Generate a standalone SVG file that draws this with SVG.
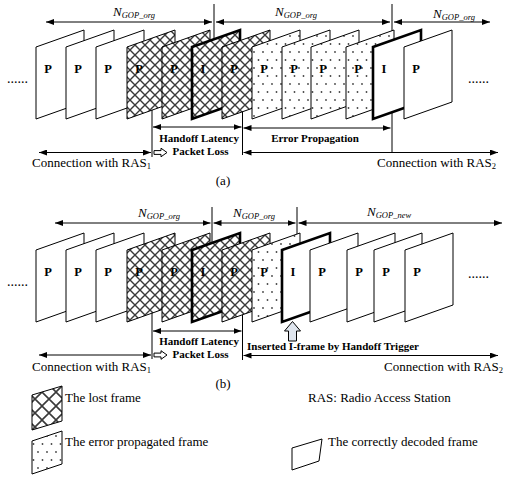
<svg xmlns="http://www.w3.org/2000/svg" width="507" height="477" viewBox="0 0 507 477">
<style>
.f{stroke:#000;stroke-width:1;stroke-linejoin:miter}
.w{fill:#fff}
.h{fill:url(#hatch)}
.d{fill:url(#dots)}
.b{stroke-width:2.6}
.ln{stroke:#000;stroke-width:1;fill:none}
.dim{marker-start:url(#ah);marker-end:url(#ah)}
.lbl{font-family:"Liberation Serif","Times New Roman",serif;font-weight:bold;font-size:12.5px;text-anchor:middle}
.t{font-family:"Liberation Serif","Times New Roman",serif;font-size:13px}
.bt{font-family:"Liberation Serif","Times New Roman",serif;font-size:11px;font-weight:bold}
.n{font-family:"Liberation Serif","Times New Roman",serif;font-size:13px;font-style:italic}
.sub{font-size:8.5px}
.ell{font-family:"Liberation Serif","Times New Roman",serif;font-size:14px}
</style>
<defs>
<pattern id="hatch" patternUnits="userSpaceOnUse" width="10" height="10">
<rect width="10" height="10" fill="#fff"/>
<path d="M0,0 L10,10 M10,0 L0,10" stroke="#3a3a3a" stroke-width="1.4"/>
</pattern>
<pattern id="hatchL" patternUnits="userSpaceOnUse" width="14" height="14">
<rect width="14" height="14" fill="#fff"/>
<path d="M0,0 L14,14 M14,0 L0,14" stroke="#3a3a3a" stroke-width="1.6"/>
</pattern>
<pattern id="dots" patternUnits="userSpaceOnUse" width="9" height="16">
<rect width="9" height="16" fill="#fff"/>
<circle cx="2" cy="4" r="0.9" fill="#444"/>
<circle cx="6.5" cy="12" r="0.9" fill="#444"/>
</pattern>
<marker id="ah" markerUnits="userSpaceOnUse" markerWidth="8" markerHeight="6" refX="8" refY="3" orient="auto-start-reverse">
<path d="M0,0 L8,3 L0,6 Z" fill="#000"/>
</marker>
</defs>

<g id="connectors">
<!-- (a) -->
<line class="ln" x1="214" y1="4" x2="214" y2="42"/>
<line class="ln" x1="392" y1="4" x2="392" y2="153"/>
<line class="ln dim" x1="46" y1="22" x2="212" y2="22"/>
<line class="ln dim" x1="216" y1="22" x2="390" y2="22"/>
<line class="ln dim" x1="394" y1="22" x2="490" y2="22"/>
<line class="ln" x1="152" y1="105" x2="152" y2="157"/>
<line class="ln" x1="242.5" y1="105" x2="242.5" y2="155"/>
<line class="ln dim" x1="153" y1="127" x2="241.5" y2="127"/>
<line class="ln dim" x1="243.5" y1="128" x2="390.5" y2="128"/>
<line class="ln dim" x1="39" y1="152.5" x2="151" y2="152.5"/>
<line class="ln dim" x1="243.5" y1="152.5" x2="498" y2="152.5"/>
<!-- (b) -->
<line class="ln" x1="212" y1="207" x2="212" y2="245"/>
<line class="ln" x1="297" y1="207" x2="297" y2="245"/>
<line class="ln dim" x1="55" y1="223" x2="210.5" y2="223"/>
<line class="ln dim" x1="213.5" y1="223" x2="295.5" y2="223"/>
<line class="ln dim" x1="298.5" y1="223" x2="502" y2="223"/>
<line class="ln" x1="152" y1="308" x2="152" y2="359"/>
<line class="ln" x1="242.5" y1="308" x2="242.5" y2="360"/>
<line class="ln dim" x1="153" y1="331" x2="241.5" y2="331"/>
<line class="ln dim" x1="39" y1="355" x2="151" y2="355"/>
<line class="ln dim" x1="243.5" y1="355.5" x2="498" y2="355.5"/>
<path class="f" fill="#fff" d="M154,150.6 H161 V148.2 L167,152.5 L161,156.8 V154.4 H154 Z"/>
<path class="f" fill="#fff" d="M154,353.1 H161 V350.7 L167,355 L161,359.3 V356.9 H154 Z"/>
<path class="f" fill="#dfe5ee" d="M292.5,321.5 L300.5,331 H296.5 V341 H288.5 V331 H284.5 Z"/>
</g>

<g id="a-frames">
<g id="a1"><path class="f w" d="M36,47 L84,30 L84,102 L36,119 Z"/><text class="lbl" x="48" y="72.5">P</text></g>
<g id="a2"><path class="f w" d="M66,47 L114,30 L114,102 L66,119 Z"/><text class="lbl" x="78" y="72.5">P</text></g>
<g id="a3"><path class="f w" d="M96,47 L144,30 L144,102 L96,119 Z"/><text class="lbl" x="108" y="72.5">P</text></g>
<g id="a4"><path class="f h" d="M127,47 L175,30 L175,102 L127,119 Z"/><text class="lbl" x="139" y="72.5">P</text></g>
<g id="a5"><path class="f h" d="M162,47 L210,30 L210,102 L162,119 Z"/><text class="lbl" x="174" y="72.5">P</text></g>
<g id="a6"><path class="f h b" d="M192,47 L240,30 L240,102 L192,119 Z"/><text class="lbl" x="203" y="72.5">I</text></g>
<g id="a7"><path class="f h" d="M222,47 L270,30 L270,102 L222,119 Z"/><text class="lbl" x="234" y="72.5">P</text></g>
<g id="a8"><path class="f d" d="M252,47 L300,30 L300,102 L252,119 Z"/><text class="lbl" x="264" y="72.5">P</text></g>
<g id="a9"><path class="f d" d="M282,47 L330,30 L330,102 L282,119 Z"/><text class="lbl" x="294" y="72.5">P</text></g>
<g id="a10"><path class="f d" d="M311,47 L359,30 L359,102 L311,119 Z"/><text class="lbl" x="323" y="72.5">P</text></g>
<g id="a11"><path class="f d" d="M346,47 L394,30 L394,102 L346,119 Z"/><text class="lbl" x="358" y="72.5">P</text></g>
<g id="a12"><path class="f w b" d="M373,47 L421,30 L421,102 L373,119 Z"/><text class="lbl" x="384" y="72.5">I</text></g>
<g id="a13"><path class="f w" d="M404,47 L452,30 L452,102 L404,119 Z"/><text class="lbl" x="416" y="72.5">P</text></g>
</g>

<g id="b-frames">
<g id="b1"><path class="f w" d="M36,250 L84,233 L84,305 L36,322 Z"/><text class="lbl" x="48" y="275.5">P</text></g>
<g id="b2"><path class="f w" d="M66,250 L114,233 L114,305 L66,322 Z"/><text class="lbl" x="78" y="275.5">P</text></g>
<g id="b3"><path class="f w" d="M96,250 L144,233 L144,305 L96,322 Z"/><text class="lbl" x="108" y="275.5">P</text></g>
<g id="b4"><path class="f h" d="M127,250 L175,233 L175,305 L127,322 Z"/><text class="lbl" x="139" y="275.5">P</text></g>
<g id="b5"><path class="f h" d="M162,250 L210,233 L210,305 L162,322 Z"/><text class="lbl" x="174" y="275.5">P</text></g>
<g id="b6"><path class="f h b" d="M192,250 L240,233 L240,305 L192,322 Z"/><text class="lbl" x="203" y="275.5">I</text></g>
<g id="b7"><path class="f h" d="M222,250 L270,233 L270,305 L222,322 Z"/><text class="lbl" x="234" y="275.5">P</text></g>
<g id="b8"><path class="f d" d="M252,250 L300,233 L300,305 L252,322 Z"/><text class="lbl" x="264" y="275.5">P</text></g>
<g id="b9"><path class="f w b" d="M282,250 L330,233 L330,305 L282,322 Z"/><text class="lbl" x="293" y="275.5">I</text></g>
<g id="b10"><path class="f w" d="M310,250 L358,233 L358,305 L310,322 Z"/><text class="lbl" x="322" y="275.5">P</text></g>
<g id="b11"><path class="f w" d="M347,250 L395,233 L395,305 L347,322 Z"/><text class="lbl" x="359" y="275.5">P</text></g>
<g id="b12"><path class="f w" d="M374,250 L422,233 L422,305 L374,322 Z"/><text class="lbl" x="386" y="275.5">P</text></g>
<g id="b13"><path class="f w" d="M405,250 L453,233 L453,305 L405,322 Z"/><text class="lbl" x="417" y="275.5">P</text></g>
</g>

<g id="labels">
<text class="ell" x="7" y="83">......</text>
<text class="ell" x="468" y="83">......</text>
<text class="ell" x="7" y="286">......</text>
<text class="ell" x="468" y="278">......</text>

<text class="n" x="113" y="16">N<tspan class="sub" dy="2">GOP_org</tspan></text>
<text class="n" x="275" y="16">N<tspan class="sub" dy="2">GOP_org</tspan></text>
<text class="n" x="433" y="18">N<tspan class="sub" dy="2">GOP_org</tspan></text>
<text class="n" x="138" y="217">N<tspan class="sub" dy="2">GOP_org</tspan></text>
<text class="n" x="233" y="217">N<tspan class="sub" dy="2">GOP_org</tspan></text>
<text class="n" x="367" y="216">N<tspan class="sub" dy="2">GOP_new</tspan></text>

<text class="bt" x="199" y="141.5" text-anchor="middle">Handoff Latency</text>
<text class="bt" x="200.5" y="154.5" text-anchor="middle">Packet Loss</text>
<text class="bt" x="315" y="142" text-anchor="middle">Error Propagation</text>
<text class="t" x="32" y="167">Connection with RAS<tspan font-size="8.5" dy="2">1</tspan></text>
<text class="t" x="377" y="167">Connection with RAS<tspan font-size="8.5" dy="2">2</tspan></text>
<text class="t" x="223" y="185" text-anchor="middle">(a)</text>

<text class="bt" x="199" y="345" text-anchor="middle">Handoff Latency</text>
<text class="bt" x="200.5" y="357.5" text-anchor="middle">Packet Loss</text>
<text class="bt" x="247" y="350">Inserted I-frame by Handoff Trigger</text>
<text class="t" x="32" y="371">Connection with RAS<tspan font-size="8.5" dy="2">1</tspan></text>
<text class="t" x="384" y="371">Connection with RAS<tspan font-size="8.5" dy="2">2</tspan></text>
<text class="t" x="223" y="388" text-anchor="middle">(b)</text>
</g>

<g id="legend">
<g id="leg-lost"><path class="f" fill="url(#hatchL)" d="M32,395 L62,386 L62,421 L32,430 Z"/><text class="t" x="65" y="402">The lost frame</text></g>
<g id="leg-err"><path class="f d" d="M32,441 L62,431 L62,464 L32,474 Z"/><text class="t" x="65" y="446">The error propagated frame</text></g>
<g id="leg-ras"><text class="t" x="308" y="402">RAS: Radio Access Station</text></g>
<g id="leg-ok"><path class="f w" d="M292,448 L322,439 L319,461 L292,470 Z"/><text class="t" x="328" y="446">The correctly decoded frame</text></g>
</g>
</svg>
